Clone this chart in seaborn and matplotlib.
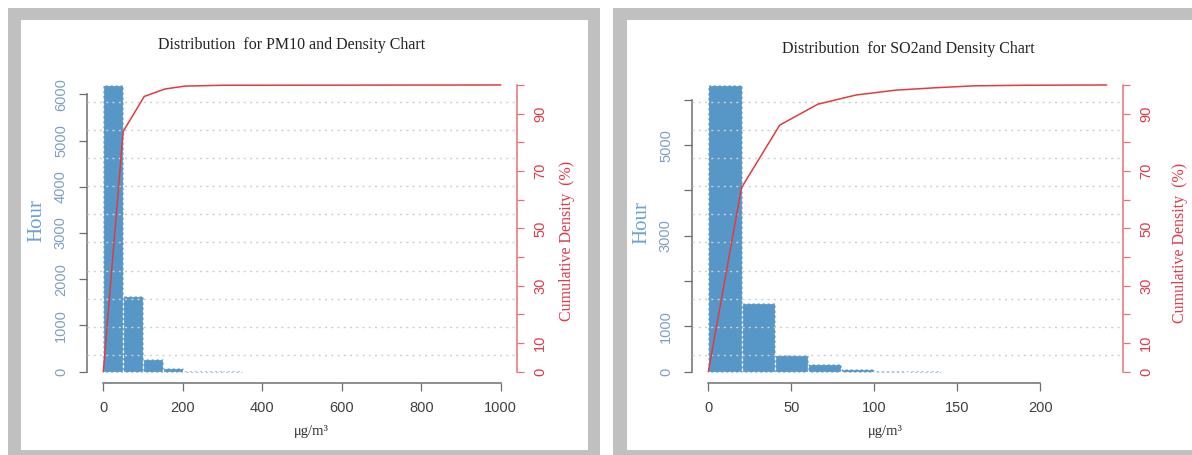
import numpy as np
import pandas as pd
import matplotlib
matplotlib.use("Agg")
import matplotlib.pyplot as plt
from matplotlib.patches import Rectangle
import seaborn as sns

# ---------------- data ----------------
pm10_edges = list(range(0, 1001, 50))
pm10_counts = [6201, 1645, 281, 72, 25, 12, 6, 3, 0, 0, 0, 0, 0, 0, 0, 0, 0, 0, 0, 3]
pm10_cum_x = [0, 50, 103, 155, 205, 300, 1000]
pm10_cum_y = [0, 83.8, 96.0, 98.6, 99.6, 99.9, 100]
pm10_xticks = [0, 200, 400, 600, 800, 1000]
pm10_yticks = [0, 1000, 2000, 3000, 4000, 5000, 6000]
pm10_ylabels = ["0", "1000", "2000", "3000", "4000", "5000", "6000"]

so2_edges = list(range(0, 241, 20))
so2_counts = [6329, 1510, 362, 170, 52, 22, 10, 4, 2, 2, 1, 1]
so2_cum_x = [0, 20, 43, 66, 89, 113, 136, 160, 190, 240]
so2_cum_y = [0, 64.2, 86.0, 93.3, 96.5, 98.2, 99.0, 99.7, 99.9, 100]
so2_xticks = [0, 50, 100, 150, 200]
so2_yticks = [0, 1000, 2000, 3000, 4000, 5000, 6000]
so2_ylabels = ["0", "1000", "", "3000", "", "5000", ""]

cum_ticks = [0, 10, 20, 30, 40, 50, 60, 70, 80, 90, 100]
cum_labels = ["0", "10", "", "30", "", "50", "", "70", "", "90", ""]

titles = ["Distribution  for PM10 and Density Chart", "Distribution  for SO2and Density Chart"]
xlabel = "\u03bcg/m\u00b3"
ylabel_left = "Hour"
ylabel_right = "Cumulative Density  (%)"

# ---------------- style ----------------
BAR = "#5697c8"
RED_LINE = "#e23b3f"
RED_AX = "#e8707a"
RED_TXT = "#e03a48"
AX_GRAY = "#6f6f6f"
LBL_BLUE = "#7f9fc2"
HOUR_BLUE = "#6fa3d2"
FRAME = "#c0c0c0"
SERIF = ["Liberation Serif", "DejaVu Serif"]
SANS = ["Liberation Sans", "DejaVu Sans"]

sns.set_style("white")
plt.rcParams["font.family"] = SANS

W, H = 1192, 455
fig = plt.figure(figsize=(W / 100, H / 100), dpi=100)
fig.patch.set_facecolor("white")


def px_rect(x0, y0, x1, y1, color):
    r = Rectangle((x0 / W, 1 - y1 / H), (x1 - x0) / W, (y1 - y0) / H,
                  transform=fig.transFigure, facecolor=color, edgecolor="none", zorder=-10)
    fig.patches.append(r)


# gray picture frames
px_rect(8, 8, 600, 470, FRAME)
px_rect(21, 20, 588, 450, "white")
px_rect(613, 8, 1210, 470, FRAME)
px_rect(627, 20, 1210, 450, "white")


def panel(rect, edges, counts, cx, cy, xticks, yticks, ylabels, title, title_pos,
          xlab_pos, hour_pos, cum_pos):
    ax = fig.add_axes(rect)
    ax.set_facecolor("white")
    edges_a = np.asarray(edges, dtype=float)
    centers = (edges_a[:-1] + edges_a[1:]) / 2
    df = pd.DataFrame({"x": centers, "w": counts})
    sns.histplot(data=df, x="x", weights="w", bins=edges, ax=ax, color=BAR,
                 alpha=1.0, edgecolor="white", linewidth=0.9)
    for p in ax.patches:
        p.set_linestyle((0, (2, 2)))
    xmin, xmax = edges[0], edges[-1]
    pad = 0.04 * (xmax - xmin)
    ax.set_xlim(xmin - pad, xmax + pad)
    m = max(counts)
    ax.set_ylim(-0.04 * m, 1.04 * m)

    ax.set_xticks(xticks)
    ax.set_xticklabels([str(t) for t in xticks])
    ax.set_yticks(yticks)
    ax.set_yticklabels(ylabels)
    for s in ["top", "right"]:
        ax.spines[s].set_visible(False)
    ax.spines["left"].set_bounds(yticks[0], yticks[-1])
    ax.spines["bottom"].set_bounds(xticks[0], xticks[-1])
    for s in ["left", "bottom"]:
        ax.spines[s].set_color(AX_GRAY)
        ax.spines[s].set_linewidth(1.1)
    ax.tick_params(axis="x", direction="out", length=6, width=0.9, color=AX_GRAY,
                   labelsize=10.5, labelcolor="#404040", pad=7, bottom=True)
    ax.tick_params(axis="y", direction="out", length=6, width=0.9, color=AX_GRAY,
                   labelsize=10.5, labelcolor=LBL_BLUE, pad=8, labelrotation=90, left=True)
    for lab in ax.get_yticklabels():
        lab.set_verticalalignment("center")

    ax.set_xlabel(xlabel, family=SERIF, fontsize=10.5, color="#333333", va="center")
    ax.xaxis.set_label_coords(*xlab_pos)
    ax.set_ylabel(ylabel_left, family=SERIF, fontsize=15, color=HOUR_BLUE,
                  va="center", ha="center")
    ax.yaxis.set_label_coords(*hour_pos)
    ax.set_title(title, family=SERIF, fontsize=11.5, color="#222222",
                 x=title_pos[0], y=title_pos[1], va="center")

    ax2 = ax.twinx()
    ax2.set_ylim(-4, 104)
    # dotted grid (R grid with 11 cells over the plot region)
    for k in range(1, 11):
        ax2.axhline(-4 + 108 * k / 11, color="#cfcfcf", linewidth=1.0,
                    linestyle=(0, (1.5, 3)), zorder=1)
    sns.lineplot(x=cx, y=cy, ax=ax2, color=RED_LINE, linewidth=1.1, zorder=3)
    ax2.set_yticks(cum_ticks)
    ax2.set_yticklabels(cum_labels)
    for s in ["top", "left", "bottom"]:
        ax2.spines[s].set_visible(False)
    ax2.spines["right"].set_bounds(0, 100)
    ax2.spines["right"].set_color(RED_AX)
    ax2.spines["right"].set_linewidth(1.1)
    ax2.tick_params(axis="y", direction="out", length=5, width=0.9, color=RED_AX,
                    labelsize=10.5, labelcolor=RED_TXT, pad=7, labelrotation=90)
    for lab in ax2.get_yticklabels():
        lab.set_verticalalignment("center")
    ax2.set_ylabel(ylabel_right, family=SERIF, fontsize=11.5, color=RED_TXT,
                   va="center", ha="center", rotation=90)
    ax2.yaxis.set_label_coords(*cum_pos)
    return ax, ax2


ax_y0 = (455 - 383.2) / H
ax_h = (383.2 - 73.5) / H

panel([87.4 / W, ax_y0, 429.3 / W, ax_h], pm10_edges, pm10_counts, pm10_cum_x, pm10_cum_y,
      pm10_xticks, pm10_yticks, pm10_ylabels, titles[0],
      ((292 - 87.4) / 429.3, (383.2 - 53) / 309.7),
      ((311 - 87.4) / 429.3, (383.2 - 431) / 309.7),
      ((37 - 87.4) / 429.3, (383.2 - 220) / 309.7),
      ((567 - 87.4) / 429.3, (383.2 - 241) / 309.7))

panel([692.4 / W, ax_y0, 430.2 / W, ax_h], so2_edges, so2_counts, so2_cum_x, so2_cum_y,
      so2_xticks, so2_yticks, so2_ylabels, titles[1],
      ((908 - 692.4) / 430.2, (383.2 - 57) / 309.7),
      ((885 - 692.4) / 430.2, (383.2 - 431) / 309.7),
      ((641.5 - 692.4) / 430.2, (383.2 - 222) / 309.7),
      ((1180 - 692.4) / 430.2, (383.2 - 243) / 309.7))

fig.savefig("out.png", dpi=100, facecolor="white")
